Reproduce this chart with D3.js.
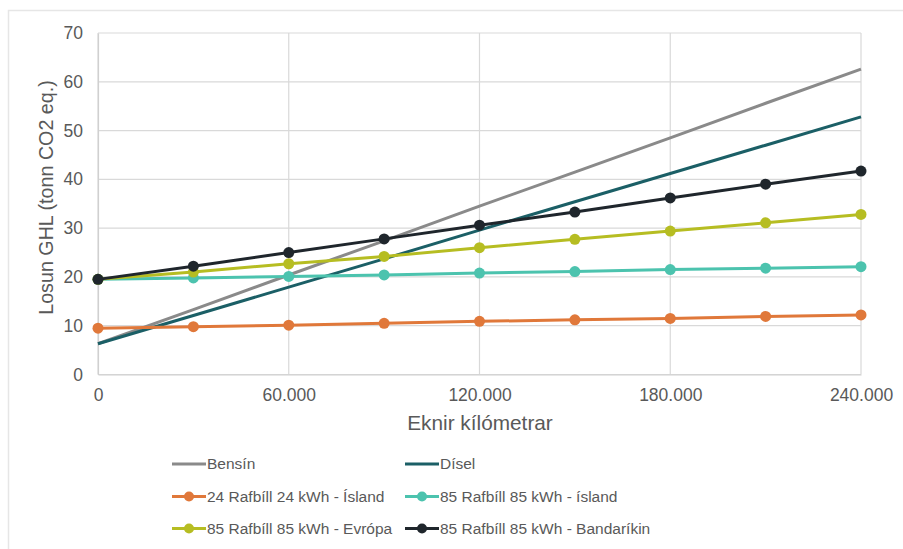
<!DOCTYPE html>
<html><head><meta charset="utf-8">
<script src="https://cdn.jsdelivr.net/npm/d3@7"></script>
<style>body{margin:0;background:#fff;} text{font-family:"Liberation Sans",Arial,sans-serif;fill:#595959;}</style>
</head><body><svg id="c" width="903" height="549"></svg>
<script>
const km = [0, 30000, 60000, 90000, 120000, 150000, 180000, 210000, 240000];
const bensin = [6.3, 13.3, 20.4, 27.4, 34.5, 41.5, 48.5, 55.6, 62.6];
const disel = [6.3, 12.1, 17.9, 23.7, 29.6, 35.4, 41.2, 47.0, 52.8];
const isl24 = [9.5, 9.8, 10.1, 10.5, 10.9, 11.2, 11.5, 11.9, 12.2];
const isl85 = [19.5, 19.8, 20.1, 20.4, 20.8, 21.1, 21.5, 21.8, 22.1];
const evropa85 = [19.5, 21.0, 22.7, 24.2, 26.0, 27.7, 29.4, 31.1, 32.8];
const usa85 = [19.5, 22.2, 25.0, 27.8, 30.6, 33.3, 36.2, 39.0, 41.7];
const seriesNames = ["Bensín", "Dísel", "24 Rafbíll 24 kWh - Ísland", "85 Rafbíll 85 kWh - ísland", "85 Rafbíll 85 kWh - Evrópa", "85 Rafbíll 85 kWh - Bandaríkin"];
const xTicks = [0, 60000, 120000, 180000, 240000];
const yTicks = [0, 10, 20, 30, 40, 50, 60, 70];
const xTitle = "Eknir kílómetrar";
const yTitle = "Losun GHL (tonn CO2 eq.)";

const series = [
  {name: seriesNames[0], vals: bensin, color: "#8a8a8a", marker: false},
  {name: seriesNames[1], vals: disel, color: "#1b5f66", marker: false},
  {name: seriesNames[2], vals: isl24, color: "#e0783a", marker: true},
  {name: seriesNames[3], vals: isl85, color: "#4cc3ae", marker: true},
  {name: seriesNames[4], vals: evropa85, color: "#b6bd22", marker: true},
  {name: seriesNames[5], vals: usa85, color: "#1f262c", marker: true}
];

const svg = d3.select("#c");
// outer frame
svg.append("path").attr("d","M8.5,549 V10.5 H903").attr("fill","none").attr("stroke","#e6e6e6").attr("stroke-width",1.5);

const x = d3.scaleLinear().domain([0, 240000]).range([98, 861]);
const y = d3.scaleLinear().domain([0, 70]).range([374.5, 33]);
const fmt = d => d3.format(",")(d).replace(/,/g, ".");

// grid
svg.append("g").selectAll("line").data(yTicks).join("line")
  .attr("x1", x(0)).attr("x2", x(240000)).attr("y1", d => y(d)).attr("y2", d => y(d))
  .attr("stroke", "#d9d9d9").attr("stroke-width", 1.2);
svg.append("g").selectAll("line").data(xTicks).join("line")
  .attr("y1", y(0)).attr("y2", y(70)).attr("x1", d => x(d)).attr("x2", d => x(d))
  .attr("stroke", "#d9d9d9").attr("stroke-width", 1.2);

// axes
const xa = svg.append("g").attr("transform", `translate(0,${y(0)})`)
  .call(d3.axisBottom(x).tickValues(xTicks).tickFormat(fmt).tickSize(0).tickPadding(14));
xa.select(".domain").attr("stroke", "#d0d0d0").attr("stroke-width", 1.2);
xa.selectAll("text").attr("font-size", 17.5).attr("fill", "#595959").attr("font-family", "Liberation Sans, Arial, sans-serif");
const ya = svg.append("g").attr("transform", `translate(${x(0)},0)`)
  .call(d3.axisLeft(y).tickValues(yTicks).tickSize(0).tickPadding(15));
ya.select(".domain").attr("stroke", "#d0d0d0").attr("stroke-width", 1.2);
ya.selectAll("text").attr("font-size", 17.5).attr("fill", "#595959").attr("font-family", "Liberation Sans, Arial, sans-serif");

// titles
svg.append("text").attr("x", 480).attr("y", 430).attr("text-anchor", "middle").attr("font-size", 20.8).text(xTitle);
svg.append("text").attr("transform", `translate(53,197.5) rotate(-90)`).attr("text-anchor", "middle").attr("font-size", 19.7).text(yTitle);

// lines
const line = d3.line().x((d, i) => x(km[i])).y(d => y(d));
series.forEach(s => {
  svg.append("path").datum(s.vals).attr("d", line).attr("fill", "none")
    .attr("stroke", s.color).attr("stroke-width", 3).attr("stroke-linejoin", "round");
  if (s.marker) {
    svg.append("g").selectAll("circle").data(s.vals).join("circle")
      .attr("cx", (d, i) => x(km[i])).attr("cy", d => y(d)).attr("r", 5.5).attr("fill", s.color);
  }
});

// legend
const legX = [172, 405], legY = [464, 496.5, 528.5];
series.forEach((s, i) => {
  const lx = legX[i % 2], ly = legY[Math.floor(i / 2)];
  const g = svg.append("g");
  g.append("line").attr("x1", lx).attr("x2", lx + 34).attr("y1", ly).attr("y2", ly).attr("stroke", s.color).attr("stroke-width", 3);
  if (s.marker) g.append("circle").attr("cx", lx + 17).attr("cy", ly).attr("r", 5).attr("fill", s.color);
  g.append("text").attr("x", lx + 35).attr("y", ly).attr("dy", "0.35em").attr("font-size", 15.5).text(s.name);
});
</script></body></html>
